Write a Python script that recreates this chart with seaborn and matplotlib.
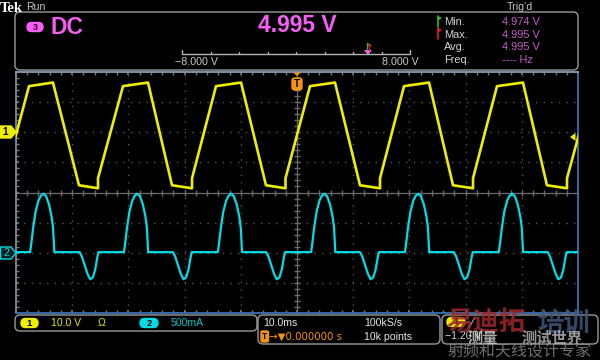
import numpy as np
import pandas as pd
import matplotlib
matplotlib.use("Agg")
import matplotlib.pyplot as plt
from matplotlib.patches import FancyBboxPatch, Polygon
from matplotlib.ticker import MultipleLocator
import seaborn as sns

# Channel 1 (yellow, 10 V/div): vertices of the trapezoid-like trace (time in ms, volts)
ch1_time_ms = [-52.06, -52.06, -47.69, -43.42, -38.79,
               -35.41, -35.41, -30.96, -26.51, -22.24,
               -18.68, -18.68, -14.41, -9.96, -5.52,
               -2.05, -2.05, 2.31, 6.76, 11.21,
               14.77, 14.77, 19.04, 23.49, 27.76,
               31.32, 31.32, 35.59, 40.21, 44.48,
               48.04, 48.04, 52.50]
ch1_volts = [-18.6, -15.3, 15.3, 16.5, -17.6,
             -18.6, -15.3, 15.3, 16.5, -17.6,
             -18.6, -15.3, 15.3, 16.5, -17.6,
             -18.6, -15.3, 15.3, 16.5, -17.6,
             -18.6, -15.3, 15.3, 16.5, -17.6,
             -18.6, -15.3, 15.3, 16.5, -17.6,
             -18.6, -15.3, 15.3]

# Channel 2 (cyan, 500 mA/div): pulse start times and pulse shapes
ch2_pos_start_ms = [-47.5, -30.8, -14.1, 2.5, 19.2, 35.9]
ch2_neg_start_ms = [-38.7, -22.1, -5.5, 11.2, 27.9, 44.6]
ch2_pos_dt_ms = [0.0, 0.18, 0.53, 0.98, 1.51, 1.96, 2.40, 2.85, 3.38, 3.83, 4.09, 4.24, 4.32]
ch2_pos_amps = [0.01, 0.12, 0.40, 0.68, 0.87, 0.95, 0.98, 0.94, 0.80, 0.60, 0.42, 0.15, 0.01]
ch2_neg_dt_ms = [0.0, 0.41, 1.01, 1.42, 1.90, 2.37, 2.79, 3.20, 3.38]
ch2_neg_amps = [0.01, -0.06, -0.23, -0.35, -0.44, -0.41, -0.28, -0.06, 0.01]
ch2_baseline_a = 0.01
screen_ms = [-50, 50]

# texts
meas_names = ["Min.", "Max.", "Avg.", "Freq."]
meas_values = ["4.974 V", "4.995 V", "4.995 V", "---- Hz"]
main_value = "4.995 V"
ch1_label, ch2_label = "10.0 V", "500mA"

# ---------------- build tables ----------------
df1 = pd.DataFrame({"t": ch1_time_ms, "v": ch1_volts})
events = [(s, ch2_pos_dt_ms, ch2_pos_amps) for s in ch2_pos_start_ms] + \
         [(s, ch2_neg_dt_ms, ch2_neg_amps) for s in ch2_neg_start_ms]
events.sort(key=lambda e: e[0])
t2, a2 = [screen_ms[0]], [ch2_baseline_a]
for s, dts, amps in events:
    for d, a in zip(dts, amps):
        t2.append(s + d)
        a2.append(a)
t2.append(screen_ms[1]); a2.append(ch2_baseline_a)
df2 = pd.DataFrame({"t": t2, "a": a2})

# ---------------- style ----------------
sns.set_theme(style="dark", rc={"axes.facecolor": "black", "figure.facecolor": "black",
                                "axes.edgecolor": "#7a8ca0", "grid.color": "#4a4a4a"})
FONT = ["Liberation Sans", "DejaVu Sans"]
NARROW = ["Liberation Sans Narrow", "Liberation Sans", "DejaVu Sans"]
plt.rcParams["font.family"] = FONT

YEL = "#f0ee00"
CYA = "#00dde6"
MAG = "#f65ef6"
MAG2 = "#c85ac8"
ORA = "#f29410"
TXT = "#d2d2d2"
BOX = "#9a9a9a"

fig = plt.figure(figsize=(6, 3.6), dpi=100)
fig.patch.set_facecolor("black")

L, R, TOP, BOT = 16, 578, 72, 313
ax1 = fig.add_axes([L / 600, 1 - BOT / 360, (R - L) / 600, (BOT - TOP) / 360])
ax1.set_facecolor("black")

# ch1: 10 V/div, ground 2 div above centre
ax1.set_xlim(*screen_ms)
ax1.set_ylim(-60, 20)
ax1.xaxis.set_major_locator(MultipleLocator(10))
ax1.yaxis.set_major_locator(MultipleLocator(10))
ax1.xaxis.set_minor_locator(MultipleLocator(2))
ax1.yaxis.set_minor_locator(MultipleLocator(2))
ax1.grid(True, which="major", color="#555555", linestyle=(0, (1, 4.5)), linewidth=1.0)
ax1.tick_params(which="both", direction="in", colors="#7a7a7a", length=2.5,
                top=True, right=True, bottom=True, left=True,
                labelbottom=False, labelleft=False)
for side, c in [("top", "#8a9aae"), ("left", "#7a8ca0"), ("right", "#3a6fb4"), ("bottom", "#3a6fb4")]:
    ax1.spines[side].set_color(c)
    ax1.spines[side].set_linewidth(1.3)
ax1.set_xlabel(""); ax1.set_ylabel("")

# centre graticule lines with small ticks
ax1.axhline(-20, color="#6a6a6a", lw=0.9, zorder=1)
ax1.axvline(0, color="#6a6a6a", lw=0.9, zorder=1)
xt = np.arange(-50, 50.1, 2)
yt = np.arange(-60, 20.1, 2)
ax1.plot(xt, np.full_like(xt, -20.0), linestyle="none", marker="|", ms=4, color="#6a6a6a", zorder=1)
ax1.plot(np.zeros_like(yt), yt, linestyle="none", marker="_", ms=4, color="#6a6a6a", zorder=1)

sns.lineplot(data=df1, x="t", y="v", ax=ax1, color=YEL, lw=1.9, sort=False,
             estimator=None, zorder=3)
ax1.set_xlabel(""); ax1.set_ylabel("")

# ch2: 500 mA/div, ground 2 div below centre
ax2 = ax1.twinx()
ax2.set_ylim(-1.0, 3.0)
sns.lineplot(data=df2, x="t", y="a", ax=ax2, color=CYA, lw=1.6, sort=False,
             estimator=None, zorder=3)
ax2.set_xlim(*screen_ms)
ax2.set_ylabel(""); ax2.set_xlabel("")
ax2.set_yticks([])
for s in ax2.spines.values():
    s.set_visible(False)
ax2.grid(False)

# ---------------- overlay in pixel coordinates ----------------
ov = fig.add_axes([0, 0, 1, 1], zorder=10)
ov.set_xlim(0, 600); ov.set_ylim(360, 0)
ov.axis("off")


def txt(x, y, s, color=TXT, size=7.9, ha="left", weight="normal", family=None, **kw):
    ov.text(x, y, s, color=color, fontsize=size, ha=ha, va="center",
            fontweight=weight, family=family or FONT, **kw)


def rbox(x, y, w, h, ec=BOX, fc="none", r=5, lw=1.0, **kw):
    ov.add_patch(FancyBboxPatch((x, y), w, h, boxstyle=f"round,pad=0,rounding_size={r}",
                                ec=ec, fc=fc, lw=lw, **kw))


# header
txt(0, 8.5, "Tek", color="white", size=10.5, weight="bold", family=["Liberation Serif", "DejaVu Serif"])
txt(26, 7.5, "Run", color="#c8c8c8", size=7.6)
txt(507, 6.5, "Trig\u2019d", color="#c8c8c8", size=7.6)
rbox(15, 12, 563, 58)

rbox(27, 22.5, 16, 9, ec=MAG, fc=MAG, r=4.5)
txt(35, 27, "3", color="#300030", size=6.5, ha="center", weight="bold")
txt(50, 27, "DC", color=MAG, size=16.5, weight="bold", family=NARROW)
txt(297, 26, main_value, color=MAG, size=16.5, ha="center", weight="bold")

# scale bar
ov.plot([182, 410], [54, 54], color="#b4b4b4", lw=1.0)
for i, x in enumerate(np.linspace(182, 410, 9)):
    y0 = 49.5 if i in (0, 8) else 51.5
    ov.plot([x, x], [y0, 54], color="#b4b4b4", lw=1.0)
txt(175, 62, "\u22128.000 V", color="#c8c8c8", size=7.7)
txt(382, 62, "8.000 V", color="#c8c8c8", size=7.7)
ov.add_patch(Polygon([(364, 50), (372, 50), (368, 55)], closed=True, fc=MAG, ec="none"))
ov.add_patch(Polygon([(367, 43), (371, 44.5), (367, 46)], closed=True, fc="#20c040", ec="none"))
ov.add_patch(Polygon([(368.5, 44), (372.5, 45.5), (368.5, 47)], closed=True, fc="#e02020", ec="none"))
ov.plot([367, 367], [43, 50], color="#20c040", lw=0.9)
ov.plot([368.5, 368.5], [44, 50], color="#e02020", lw=0.9)

# measurement panel
ov.plot([438, 438], [16, 27], color="#20c040", lw=1.2)
ov.add_patch(Polygon([(438, 16), (442, 18), (438, 20.5)], closed=True, fc="#20c040", ec="none"))
ov.plot([438, 438], [28, 39], color="#e02020", lw=1.2)
ov.add_patch(Polygon([(438, 28), (442, 30), (438, 32.5)], closed=True, fc="#e02020", ec="none"))
for i, (n, v) in enumerate(zip(meas_names, meas_values)):
    y = 22 + i * 12.7
    txt(444, y, n, color=TXT, size=7.9)
    txt(502, y, v, color=MAG2, size=7.9)

# channel markers on the left
ov.add_patch(Polygon([(0, 126), (11, 126), (16, 132), (11, 138), (0, 138)], closed=True, fc=YEL, ec=YEL))
txt(5.5, 132, "1", color="black", size=7.2, ha="center", weight="bold")
ov.add_patch(Polygon([(0.5, 247), (11, 247), (16, 253), (11, 259), (0.5, 259)], closed=True,
                     fc="#002022", ec=CYA, lw=1.0))
txt(6, 253, "2", color=CYA, size=7.6, ha="center")

# trigger markers
ov.add_patch(Polygon([(293, 72.5), (301, 72.5), (297, 76)], closed=True, fc=ORA, ec="none"))
rbox(292, 78, 10, 12, ec=ORA, fc=ORA, r=2.5)
txt(297, 84, "T", color="black", size=7, ha="center", weight="bold")
ov.add_patch(Polygon([(570, 137), (575.5, 133), (575.5, 141)], closed=True, fc=YEL, ec="none"))

# bottom status bar
rbox(15, 315, 242, 16)
rbox(21, 318.5, 17, 9, ec=YEL, fc=YEL, r=4.5)
txt(29.5, 323, "1", color="black", size=6.8, ha="center", weight="bold")
txt(51, 323, ch1_label, color="#e4e200", size=7.6)
txt(98, 323, "\u03a9", color="#e4e200", size=7.6)
rbox(140, 318.5, 18, 9, ec=CYA, fc=CYA, r=4.5)
txt(149, 323, "2", color="black", size=6.8, ha="center", weight="bold")
txt(171, 323, ch2_label, color="#00c4cc", size=7.6)

rbox(258, 315, 182, 29)
txt(263, 323, "10.0ms", color="#e6e6e6", size=7.6)
rbox(261, 331, 7.5, 11, ec=ORA, fc=ORA, r=1.5)
txt(264.8, 336.5, "T", color="black", size=6.2, ha="center", weight="bold")
txt(269, 337, "\u2192\u25bc0.000000 s", color=ORA, size=7.4, family=["DejaVu Sans"])
txt(364, 323, "100kS/s", color="#e6e6e6", size=7.6)
txt(364, 337, "10k points", color="#e6e6e6", size=7.6)
rbox(442, 315, 156, 29)
rbox(447, 317.5, 18, 9, ec=YEL, fc=YEL, r=4.5)
txt(456, 322, "1", color="black", size=6.8, ha="center", weight="bold")
txt(468, 322, "\u2571", color="#e6e6e6", size=7, family=["DejaVu Sans"])
txt(445, 336, "\u22121.20 V", color="#d0d0d0", size=7.6)

# watermark overlay (drawn over the status bar, as on the screenshot)
CJK = ["Noto Sans CJK SC", "DejaVu Sans"]
ov.text(446, 323, "易迪拓", color="#a0262a", fontsize=19, ha="left", va="center",
        family=CJK, fontweight="bold", alpha=0.85)
ov.text(537, 323, "培训", color="#3d5678", fontsize=19, ha="left", va="center",
        family=CJK, fontweight="bold", alpha=0.85)
ov.text(468, 338, "测量", color="#d8d8d8", fontsize=11, ha="left", va="center",
        family=CJK, fontweight="bold", alpha=0.8)
ov.text(522, 338, "测试世界", color="#c8c8c8", fontsize=11, ha="left", va="center",
        family=CJK, fontweight="bold", alpha=0.75)
ov.text(447, 352, "射频和天线设计专家", color="#8a8a8a", fontsize=11.5, ha="left", va="center",
        family=CJK, alpha=0.8)

fig.savefig("out.png", dpi=100, facecolor="black")
